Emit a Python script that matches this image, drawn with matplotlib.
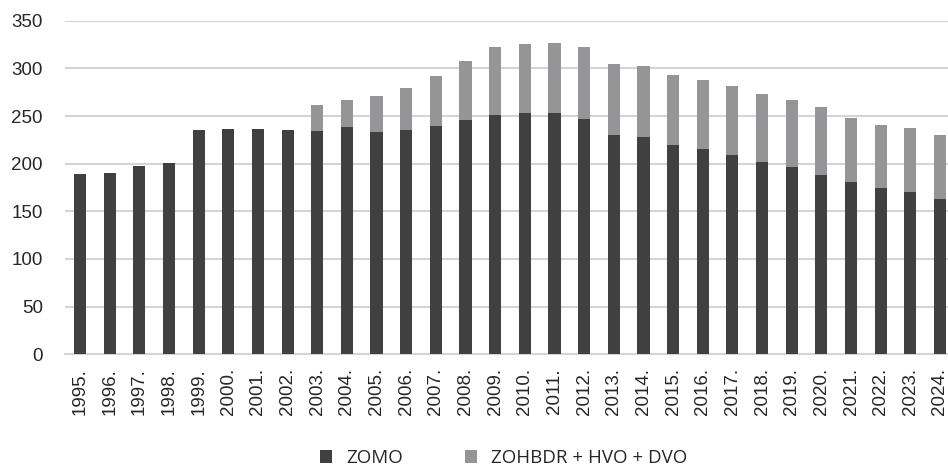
"""Stacked bars: ZOMO and ZOHBDR + HVO + DVO, 1995-2024."""

import matplotlib
matplotlib.use("Agg")
import matplotlib.pyplot as plt
import numpy as np

years = [f"{y}." for y in range(1995, 2025)]

zomo = [189, 190, 198, 201, 235, 236, 236, 235, 234, 238,
        233, 235, 239, 246, 251, 253, 253, 247, 230, 228,
        220, 215, 209, 202, 197, 188, 181, 174, 170, 163]

total = [189, 190, 198, 201, 235, 236, 236, 235, 262, 267,
         271, 279, 292, 308, 322, 326, 327, 322, 305, 302,
         293, 288, 281, 273, 267, 259, 248, 241, 237, 230]

other = [t - z for t, z in zip(total, zomo)]

DARK = "#404040"
GRAY = "#959598"
GRID = "#d4d4d4"
TEXT = "#262626"

plt.rcParams["font.family"] = ["Liberation Sans", "DejaVu Sans"]

fig = plt.figure(figsize=(9.48, 4.68), dpi=100)
# axes slightly wider than the figure, the right edge is cropped in the reference
ax = fig.add_axes([65.2 / 948, 113.7 / 468, 889.6 / 948, 333.6 / 468])

x = np.arange(len(years))
ax.bar(x, zomo, width=0.41, color=DARK, label="ZOMO", zorder=3)
ax.bar(x, other, width=0.41, bottom=zomo, color=GRAY,
       label="ZOHBDR + HVO + DVO", zorder=3)

ax.set_xlim(-0.5, len(years) - 0.5)
ax.set_ylim(0, 350)
ax.set_yticks(range(0, 351, 50))
ax.yaxis.grid(True, color=GRID, linewidth=1.5, zorder=0)
ax.set_xticks(x)
ax.set_xticklabels(years, rotation=90)
ax.tick_params(axis="both", length=0, labelsize=13.5, colors=TEXT)
ax.tick_params(axis="x", pad=10)
ax.tick_params(axis="y", pad=16)
for side in ("top", "right", "left"):
    ax.spines[side].set_visible(False)
ax.spines["bottom"].set_color(GRID)
ax.spines["bottom"].set_linewidth(1.5)

leg = fig.legend(loc="center", bbox_to_anchor=(503.5 / 948, 10 / 468), ncol=2,
                 frameon=False, prop={"family": "Open Sans", "size": 13.5},
                 handlelength=0.65, handleheight=0.65,
                 columnspacing=3.3, handletextpad=0.75, labelcolor=TEXT)

fig.savefig("out.png", dpi=100)
